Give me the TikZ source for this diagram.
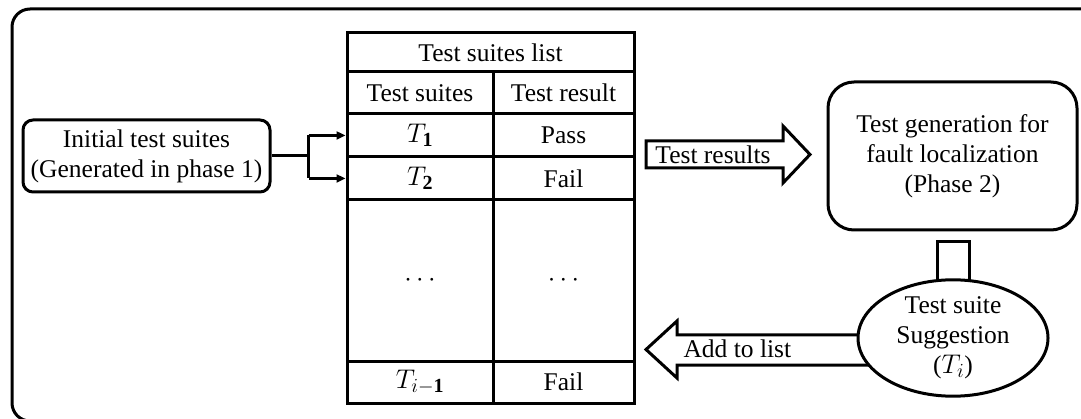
\documentclass[tikz,border=0pt]{standalone}
\usepackage{fix-cm}
\usepackage{fontspec}
\setmainfont{Liberation Serif}
\DeclareMathSizes{25.5}{27}{20}{15}
\usetikzlibrary{arrows.meta,shapes.geometric}
\tikzset{
  lw/.style={line width=3pt},
  txt/.style={font=\fontsize{25.5}{30}\selectfont, align=center},
  cell/.style={draw, lw, txt, inner sep=0pt, anchor=center},
  roundbox/.style={draw, lw, txt, rounded corners=#1, inner sep=0pt},
  blockarrow/.style={draw, lw, fill=white, line join=miter},
  tip/.style={-{Triangle[length=9pt,width=8pt]}, lw},
}
\begin{document}
\begin{tikzpicture}[x=1pt,y=-1pt]
\useasboundingbox (0,0) rectangle (1081,419);
\clip (0,0) rectangle (1081,419);
% outer frame
\draw[lw, rounded corners=18] (12,9) rectangle (1110,421);

% left input box
\node[roundbox=10, minimum width=247, minimum height=72] (init) at (146.5,156)
  {Initial test suites\\(Generated in phase 1)};

% table of test suites
\node[cell, minimum width=287, minimum height=39] (title) at (490.5,52.5) {Test suites list};
\node[cell, minimum width=146, minimum height=42] (h1) at (420,93) {Test suites};
\node[cell, minimum width=141, minimum height=42] (h2) at (563.5,93) {Test result};
\node[cell, minimum width=146, minimum height=43] (t1) at (420,135.5) {$T_{\mathbf{1}}$};
\node[cell, minimum width=141, minimum height=43] (r1) at (563.5,135.5) {Pass};
\node[cell, minimum width=146, minimum height=43] (t2) at (420,178.5) {$T_{\mathbf{2}}$};
\node[cell, minimum width=141, minimum height=43] (r2) at (563.5,178.5) {Fail};
\node[cell, minimum width=146, minimum height=161] (td) at (420,280.5) {$\cdots$};
\node[cell, minimum width=141, minimum height=161] (rd) at (563.5,280.5) {$\cdots$};
\node[cell, minimum width=146, minimum height=42] (tl) at (420,382) {$T_{i-\mathbf{1}}$};
\node[cell, minimum width=141, minimum height=42] (rl) at (563.5,382) {Fail};

% split connector from the input box into the first two rows
\draw[lw] (init.east) -- ++(37,0) coordinate (j);
\draw[lw] (j |- t1.west) -- (j |- t2.west);
\draw[tip] (j |- t1.west) -- (t1.west);
\draw[tip] (j |- t2.west) -- (t2.west);

% phase 2 box
\node[roundbox=26, minimum width=249, minimum height=148] (gen) at (952.5,156)
  {Test generation for\\fault localization\\(Phase 2)};

% block arrow carrying the test results
\draw[blockarrow] (646,141) -- (783,141) -- (783,126) -- (810,154.5)
  -- (783,183) -- (783,168) -- (646,168) -- cycle;
\node[txt] (reslabel) at (713,154.5) {Test results};

% link from phase 2 down to the suggestion
\draw[lw] (937,305) -- (937,242) -- (969,242) -- (969,305);

% block arrow adding the suggestion to the list
\draw[blockarrow] (900,335) -- (677,335) -- (677,321) -- (646,349.5)
  -- (677,378) -- (677,365) -- (900,365);
\node[txt, anchor=west] (addlabel) at (680,349) {Add to list};

% suggested test suite
\node[draw, lw, fill=white, ellipse, txt, minimum width=190, minimum height=100, inner sep=0pt]
  (sugg) at (953,338) {Test suite\\Suggestion\\($T_i$)};
\end{tikzpicture}
\end{document}
